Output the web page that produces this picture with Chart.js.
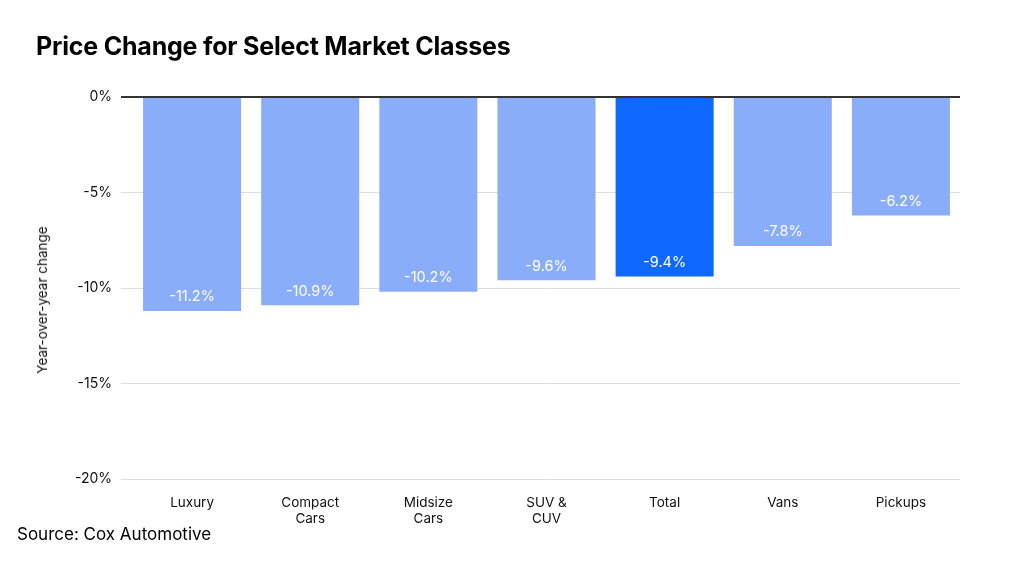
<!DOCTYPE html>
<html>
<head>
<meta charset="utf-8">
<script src="https://cdn.jsdelivr.net/npm/chart.js@4"></script>
<style>
  html, body { margin:0; padding:0; background:#fff; }
  #wrap { position:relative; width:1024px; height:565px; overflow:hidden; font-family: Inter, "Liberation Sans", sans-serif; }
  #title { position:absolute; left:36px; top:31px; font-size:25px; font-weight:700; color:#000; letter-spacing:-0.2px; white-space:nowrap; }
  #source { position:absolute; left:17px; top:524px; font-size:17px; color:#000; white-space:nowrap; }
  #ytitle { position:absolute; left:42px; top:300px; transform:translate(-50%,-50%) rotate(-90deg); font-size:13.5px; color:#111; white-space:nowrap; }
  canvas { position:absolute; left:0; top:0; }
</style>
</head>
<body>
<div id="wrap">
  <canvas id="c" width="1024" height="565"></canvas>
  <div id="title">Price Change for Select Market Classes</div>
  <div id="ytitle">Year-over-year change</div>
  <div id="source">Source: Cox Automotive</div>
</div>
<script>
const categories = [["Luxury"], ["Compact", "Cars"], ["Midsize", "Cars"], ["SUV &", "CUV"], ["Total"], ["Vans"], ["Pickups"]];
const values = [-11.2, -10.9, -10.2, -9.6, -9.4, -7.8, -6.2];
const highlight = [false, false, false, false, true, false, false];
const yTicks = [0, -5, -10, -15, -20];

const FONT = 'Inter, "Liberation Sans", sans-serif';

const labelPlugin = {
  id: 'barLabels',
  afterDatasetsDraw(chart) {
    const ctx = chart.ctx;
    const meta = chart.getDatasetMeta(0);
    ctx.save();
    ctx.fillStyle = '#ffffff';
    ctx.font = '14.5px ' + FONT;
    ctx.textAlign = 'center';
    ctx.textBaseline = 'middle';
    meta.data.forEach((bar, i) => {
      ctx.fillText(values[i].toFixed(1) + '%', bar.x, bar.y - 14);
    });
    ctx.restore();
  }
};

new Chart(document.getElementById('c'), {
  type: 'bar',
  data: {
    labels: categories,
    datasets: [{
      data: values,
      backgroundColor: highlight.map(h => h ? '#0f68ff' : '#8aadfa'),
      borderWidth: 0,
      barPercentage: 0.83,
      categoryPercentage: 1.0
    }]
  },
  options: {
    responsive: false,
    animation: false,
    devicePixelRatio: 1,
    layout: { padding: { left: 0, top: 97, right: 64, bottom: 0 } },
    plugins: { legend: { display: false }, tooltip: { enabled: false }, title: { display: false } },
    scales: {
      x: {
        grid: { display: false, drawTicks: false },
        border: { display: false },
        ticks: { color: '#111', font: { family: FONT, size: 13.5 }, padding: 16, maxRotation: 0, autoSkip: false },
        afterFit(scale) { scale.height = 86; }
      },
      y: {
        min: -20, max: 0,
        afterBuildTicks(scale) { scale.ticks = yTicks.map(v => ({ value: v })); },
        grid: {
          color: ctx => ctx.tick && ctx.tick.value === 0 ? '#333333' : '#dddddd',
          lineWidth: ctx => ctx.tick && ctx.tick.value === 0 ? 2 : 1,
          tickLength: 12,
          drawTicks: true
        },
        border: { display: false },
        ticks: { color: '#111', font: { family: FONT, size: 14 }, padding: 9, callback: v => v + '%' },
        afterFit(scale) { scale.width = 133; }
      }
    }
  },
  plugins: [labelPlugin]
});
</script>
</body>
</html>
